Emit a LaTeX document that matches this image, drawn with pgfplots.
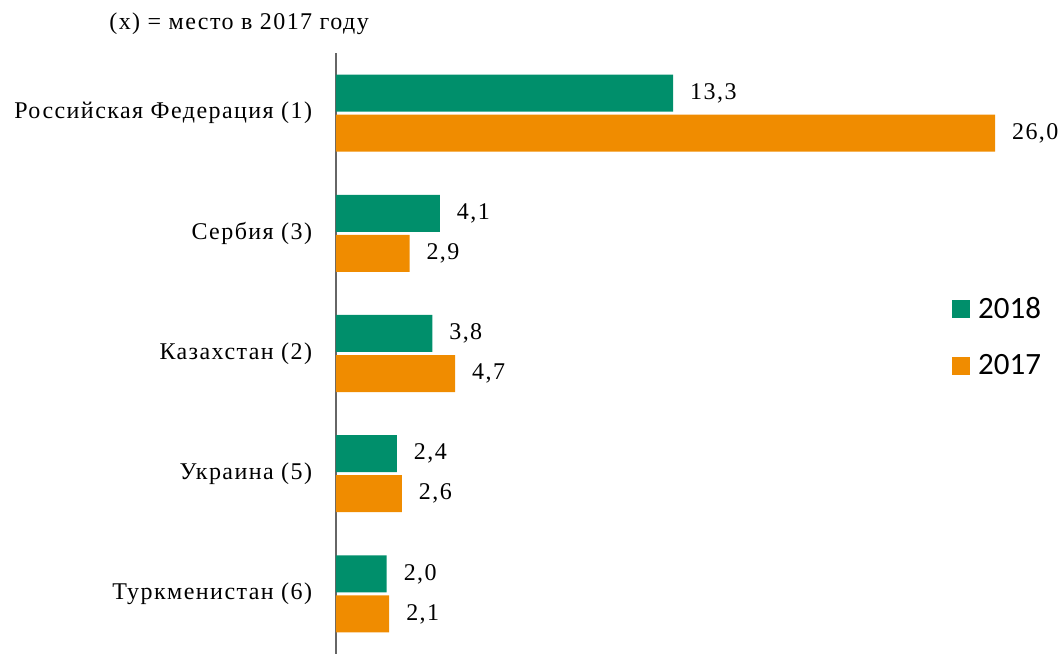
\documentclass[border=0pt]{standalone}
\usepackage{fontspec}
\setmainfont{Liberation Serif}[LetterSpace=6]
\newfontfamily\legfont{Carlito}
\usepackage{pgfplots}
\pgfplotsset{compat=1.18}
\definecolor{cgreen}{RGB}{0,143,107}
\definecolor{corange}{RGB}{240,140,0}
\begin{document}
\begin{tikzpicture}
\useasboundingbox (0,0) rectangle (531pt,327pt);
\begin{axis}[
  at={(168pt,0pt)}, anchor=south west,
  scale only axis,
  width=363pt, height=300.5pt,
  xbar, bar width=18.5pt,
  xmin=0, xmax=28.64,
  ymin=-0.5, ymax=4.5,
  y dir=reverse,
  axis x line=none,
  axis y line*=left,
  y axis line style={-, draw=black!60, line width=0.8pt},
  ytick={0,1,2,3,4},
  yticklabels={Российская Федерация (1),Сербия (3),Казахстан (2),Украина (5),Туркменистан (6)},
  ytick style={draw=none},
  yticklabel style={font=\fontsize{12}{14}\selectfont, inner sep=0pt, xshift=-7.5pt},
  nodes near coords,
  nodes near coords style={font=\fontsize{12}{14}\selectfont, anchor=west, xshift=5pt,
    /pgf/number format/.cd, use comma, fixed, fixed zerofill, precision=1, assume math mode=true},
  point meta=x,
  legend style={draw=none, fill=none, at={(0.840,0.527)}, anchor=west,
    font=\legfont\fontsize{15.5}{17}\selectfont, row sep=12.5pt,
    /tikz/every odd column/.append style={column sep=2pt}},
  legend cell align=left,
  legend image code/.code={\fill[#1] (0pt,-4.5pt) rectangle (9pt,4.5pt);},
]
\addplot[fill=cgreen, draw=none, bar shift=0pt] coordinates {(13.3,-0.1667) (4.1,0.8333) (3.8,1.8333) (2.4,2.8333) (2.0,3.8333)};
\addplot[fill=corange, draw=none, bar shift=0pt] coordinates {(26.0,0.1667) (2.9,1.1667) (4.7,2.1667) (2.6,3.1667) (2.1,4.1667)};
\legend{2018,2017}
\end{axis}
\node[anchor=base west, font=\fontsize{12}{14}\selectfont, inner sep=0pt] at (54.5pt,312pt) {(x) = место в 2017 году};
\end{tikzpicture}
\end{document}
